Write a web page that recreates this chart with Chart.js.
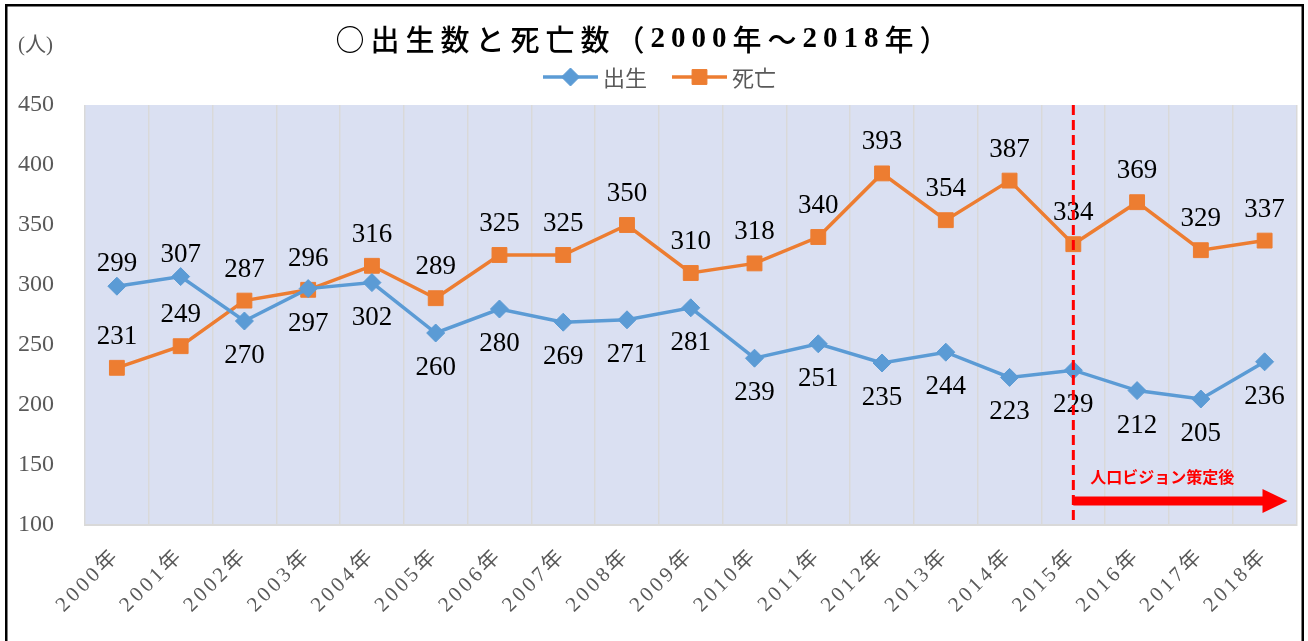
<!DOCTYPE html>
<html>
<head>
<meta charset="utf-8">
<script src="https://cdn.jsdelivr.net/npm/chart.js@4.4.1/dist/chart.umd.min.js"></script>
<style>
  html, body { margin: 0; padding: 0; background: #fff; }
  #chart { display: block; }
</style>
</head>
<body>
<canvas id="chart" width="1308" height="641"></canvas>
<script>
// data
const years = ["2000年", "2001年", "2002年", "2003年", "2004年", "2005年", "2006年", "2007年", "2008年", "2009年",
               "2010年", "2011年", "2012年", "2013年", "2014年", "2015年", "2016年", "2017年", "2018年"];
const births = [299, 307, 270, 297, 302, 260, 280, 269, 271, 281, 239, 251, 235, 244, 223, 229, 212, 205, 236];
const deaths = [231, 249, 287, 296, 316, 289, 325, 325, 350, 310, 318, 340, 393, 354, 387, 334, 369, 329, 337];
const yMin = 100, yMax = 450, yStep = 50;
const visionYear = "2015年";
const birthLabelsAbove = [0, 1];

const BLUE = "#5B9BD5";
const ORANGE = "#ED7D31";
const GRAY = "#595959";
const SERIF = "'Liberation Serif', 'Noto Sans CJK JP', serif";
const SANS = "'Noto Sans CJK JP', sans-serif";

const plotBg = {
    id: "plotBg",
    beforeDraw(chart) {
        const { ctx, chartArea: a } = chart;
        ctx.save();
        ctx.fillStyle = "#DAE0F2";
        ctx.fillRect(a.left, a.top, a.right - a.left, a.bottom - a.top);
        ctx.restore();
    }
};

// wider spacing on the rotated year labels
const xLabelSpacing = {
    id: "xLabelSpacing",
    afterUpdate(chart) {
        const sc = chart.scales.x;
        if (sc._spaced) return;
        const orig = sc.drawLabels;
        sc.drawLabels = function (area) {
            chart.ctx.save();
            chart.ctx.letterSpacing = "3.5px";
            orig.call(this, area);
            chart.ctx.restore();
        };
        sc._spaced = true;
    }
};

const valueLabels = {
    id: "valueLabels",
    afterDatasetsDraw(chart) {
        const ctx = chart.ctx;
        ctx.save();
        ctx.font = "27px " + SERIF;
        ctx.fillStyle = "#000";
        ctx.textAlign = "center";
        ctx.textBaseline = "middle";
        chart.data.datasets.forEach((ds, di) => {
            chart.getDatasetMeta(di).data.forEach((pt, i) => {
                let dy;
                if (di === 1) dy = -31;
                else dy = birthLabelsAbove.includes(i) ? -22 : 35;
                ctx.fillText(String(ds.data[i]), pt.x, pt.y + dy);
            });
        });
        ctx.restore();
    }
};

const extras = {
    id: "extras",
    afterDraw(chart) {
        const { ctx, chartArea: a, scales } = chart;
        ctx.save();

        // vision marker: dashed line + arrow
        const vx = scales.x.getPixelForValue(years.indexOf(visionYear));
        ctx.strokeStyle = "#FF0000";
        ctx.lineWidth = 3;
        ctx.setLineDash([10, 5]);
        ctx.beginPath();
        ctx.moveTo(vx, a.top);
        ctx.lineTo(vx, a.bottom);
        ctx.stroke();
        ctx.setLineDash([]);

        const ay = scales.y.getPixelForValue(120);
        const tipX = a.right - 9;
        ctx.fillStyle = "#FF0000";
        ctx.fillRect(vx, ay - 4.5, tipX - 24 - vx, 9);
        ctx.beginPath();
        ctx.moveTo(tipX, ay);
        ctx.lineTo(tipX - 25, ay - 12);
        ctx.lineTo(tipX - 25, ay + 12);
        ctx.closePath();
        ctx.fill();

        ctx.font = "bold 16px " + SANS;
        ctx.textAlign = "left";
        ctx.textBaseline = "middle";
        ctx.fillText("人口ビジョン策定後", vx + 17, scales.y.getPixelForValue(140));

        // title: CJK in sans, digits in bold serif
        ctx.fillStyle = "#000";
        ctx.letterSpacing = "6px";
        const cjk = "500 29px " + SANS;
        const num = "bold 29px " + SERIF;
        const runs = [["○出生数と死亡数（", cjk], ["2000", num], ["年～", cjk], ["2018", num], ["年）", cjk]];
        let total = 0;
        runs.forEach(r => { ctx.font = r[1]; total += ctx.measureText(r[0]).width; });
        let tx = 645 - total / 2;
        ctx.textAlign = "left";
        runs.forEach(r => {
            ctx.font = r[1];
            ctx.fillText(r[0], tx, 40);
            tx += ctx.measureText(r[0]).width;
        });
        ctx.letterSpacing = "0px";

        // unit
        ctx.fillStyle = GRAY;
        ctx.font = "21px " + SERIF;
        ctx.fillText("(人)", 18, 45);

        // legend
        const items = [
            { x: 543, color: BLUE, style: "rectRot", r: 9, text: "出生" },
            { x: 672, color: ORANGE, style: "rect", r: 10.5, text: "死亡" }
        ];
        items.forEach(it => {
            ctx.strokeStyle = it.color;
            ctx.fillStyle = it.color;
            ctx.lineWidth = 3.5;
            ctx.beginPath();
            ctx.moveTo(it.x, 77);
            ctx.lineTo(it.x + 55, 77);
            ctx.stroke();
            ctx.lineWidth = 1;
            Chart.helpers.drawPoint(ctx, { pointStyle: it.style, radius: it.r, rotation: 0, borderWidth: 1 }, it.x + 27.5, 77);
            ctx.fillStyle = GRAY;
            ctx.font = "22px " + SANS;
            ctx.fillText(it.text, it.x + 60, 78);
        });

        // frame
        ctx.strokeStyle = "#000";
        ctx.lineWidth = 2.5;
        ctx.strokeRect(6.25, 5.25, 1296.5, 700);
        ctx.restore();
    }
};

new Chart(document.getElementById("chart"), {
    type: "line",
    data: {
        labels: years,
        datasets: [
            {
                label: "出生",
                data: births,
                borderColor: BLUE,
                backgroundColor: BLUE,
                borderWidth: 3.5,
                pointStyle: "rectRot",
                pointRadius: 9,
                pointBorderWidth: 1,
                tension: 0
            },
            {
                label: "死亡",
                data: deaths,
                borderColor: ORANGE,
                backgroundColor: ORANGE,
                borderWidth: 3.5,
                pointStyle: "rect",
                pointRadius: 10.5,
                pointBorderWidth: 1,
                tension: 0
            }
        ]
    },
    options: {
        responsive: false,
        animation: false,
        devicePixelRatio: 1,
        layout: { padding: { top: 105, left: 10, right: 8, bottom: 0 } },
        plugins: {
            legend: { display: false },
            title: { display: false },
            tooltip: { enabled: false }
        },
        scales: {
            x: {
                offset: true,
                grid: { offset: true, color: "#D9D9D9", lineWidth: 1.5, drawTicks: false },
                border: { color: "#D9D9D9", width: 2 },
                ticks: {
                    autoSkip: false,
                    minRotation: 45,
                    maxRotation: 45,
                    padding: 18,
                    color: GRAY,
                    font: { family: SERIF, size: 21 }
                },
                afterFit(scale) { scale.height = 116; }
            },
            y: {
                min: yMin,
                max: yMax,
                grid: { display: false },
                border: { display: false },
                ticks: {
                    stepSize: yStep,
                    padding: 23,
                    color: GRAY,
                    font: { family: SERIF, size: 24 }
                },
                afterFit(scale) { scale.width = 75; }
            }
        }
    },
    plugins: [plotBg, xLabelSpacing, valueLabels, extras]
});
</script>
</body>
</html>
